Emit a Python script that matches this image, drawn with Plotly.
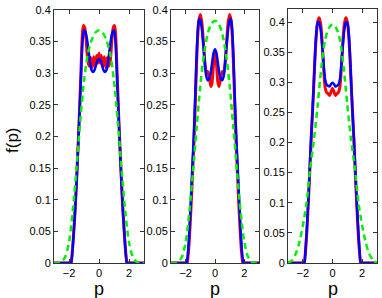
import plotly.graph_objects as go

W, H = 382, 298

# ---------------- data ----------------
# panel 1
p1_green_x = [-3, -2.75, -2.5, -2.25, -2, -1.75, -1.5, -1.25, -1, -0.75, -0.5, -0.25, 0,
              0.25, 0.5, 0.75, 1, 1.25, 1.5, 1.75, 2, 2.25, 2.5, 2.75, 3]
p1_green_y = [0, 0, 0.002, 0.010, 0.033, 0.082, 0.150, 0.225, 0.288, 0.330, 0.352, 0.364, 0.368,
              0.364, 0.352, 0.330, 0.288, 0.225, 0.150, 0.082, 0.033, 0.010, 0.002, 0, 0]

p1_blue_x = [-3, -2.4, -1.9, -1.85, -1.8, -1.7, -1.6, -1.5, -1.4, -1.3, -1.2, -1.1, -1.0, -0.9, -0.8,
             -0.7, -0.6, -0.5, -0.4, -0.3, -0.2, -0.1, 0, 0.1, 0.2, 0.3, 0.4, 0.5, 0.6, 0.7,
             0.8, 0.9, 1.0, 1.1, 1.2, 1.3, 1.4, 1.5, 1.6, 1.7, 1.8, 1.85, 1.9, 2.4, 3]
p1_blue_y = [0, 0, 0, 0, 0.010, 0.042, 0.080, 0.125, 0.180, 0.235, 0.295, 0.350, 0.368, 0.365, 0.354,
             0.336, 0.318, 0.305, 0.302, 0.305, 0.313, 0.320, 0.323, 0.320, 0.313, 0.305, 0.302, 0.305, 0.318, 0.336,
             0.354, 0.365, 0.368, 0.350, 0.295, 0.235, 0.180, 0.125, 0.080, 0.042, 0.010, 0, 0, 0, 0]

p1_red_x = [-3, -2.4, -1.92, -1.87, -1.8, -1.7, -1.6, -1.5, -1.4, -1.3, -1.2, -1.1, -1.03, -0.95, -0.85,
            -0.75, -0.65, -0.55, -0.45, -0.35, -0.25, -0.16, -0.08, 0, 0.08, 0.16, 0.25, 0.35, 0.45,
            0.55, 0.65, 0.75, 0.85, 0.95, 1.03, 1.1, 1.2, 1.3, 1.4, 1.5, 1.6, 1.7, 1.8, 1.87, 1.92, 2.4, 3]
p1_red_y = [0, 0, 0, 0, 0.012, 0.043, 0.082, 0.128, 0.182, 0.240, 0.305, 0.365, 0.3755, 0.372, 0.350,
            0.320, 0.311, 0.325, 0.309, 0.326, 0.310, 0.328, 0.316, 0.332, 0.316, 0.328, 0.310, 0.326, 0.309,
            0.325, 0.311, 0.320, 0.350, 0.372, 0.3755, 0.365, 0.305, 0.240, 0.182, 0.128, 0.082, 0.043, 0.012, 0, 0, 0, 0]

# panel 2
p2_green_x = p1_green_x
p2_green_y = [0, 0, 0.002, 0.010, 0.033, 0.080, 0.145, 0.215, 0.280, 0.330, 0.362, 0.378, 0.383,
              0.378, 0.362, 0.330, 0.280, 0.215, 0.145, 0.080, 0.033, 0.010, 0.002, 0, 0]

p2_blue_x = [-3, -2.4, -1.98, -1.93, -1.85, -1.75, -1.65, -1.55, -1.45, -1.35, -1.25, -1.15, -1.08, -1.0, -0.9,
             -0.8, -0.7, -0.6, -0.5, -0.4, -0.3, -0.2, -0.1, 0, 0.1, 0.2, 0.3, 0.4, 0.5, 0.6, 0.7,
             0.8, 0.9, 1.0, 1.08, 1.15, 1.25, 1.35, 1.45, 1.55, 1.65, 1.75, 1.85, 1.93, 1.98, 2.4, 3]
p2_blue_y = [0, 0, 0, 0, 0.015, 0.050, 0.098, 0.150, 0.200, 0.262, 0.330, 0.375, 0.386, 0.384, 0.371,
             0.346, 0.318, 0.296, 0.289, 0.291, 0.300, 0.316, 0.332, 0.338, 0.332, 0.316, 0.300, 0.291, 0.289, 0.296, 0.318,
             0.346, 0.371, 0.384, 0.386, 0.375, 0.330, 0.262, 0.200, 0.150, 0.098, 0.050, 0.015, 0, 0, 0, 0]

p2_red_x = [-3, -2.4, -1.95, -1.9, -1.8, -1.7, -1.6, -1.5, -1.4, -1.3, -1.2, -1.1, -1.0, -0.9, -0.8,
            -0.7, -0.6, -0.5, -0.38, -0.28, -0.2, -0.1, 0, 0.1, 0.2, 0.28, 0.38, 0.5, 0.6, 0.7,
            0.8, 0.9, 1.0, 1.1, 1.2, 1.3, 1.4, 1.5, 1.6, 1.7, 1.8, 1.9, 1.95, 2.4, 3]
p2_red_y = [0, 0, 0, 0, 0.020, 0.058, 0.105, 0.158, 0.212, 0.285, 0.350, 0.383, 0.393, 0.381, 0.352,
            0.320, 0.300, 0.303, 0.292, 0.279, 0.285, 0.315, 0.333, 0.315, 0.285, 0.279, 0.292, 0.303, 0.300, 0.320,
            0.352, 0.381, 0.393, 0.383, 0.350, 0.285, 0.212, 0.158, 0.105, 0.058, 0.020, 0, 0, 0, 0]

# panel 3
p3_green_x = p1_green_x
p3_green_y = [0, 0.004, 0.014, 0.033, 0.062, 0.100, 0.158, 0.205, 0.262, 0.325, 0.370, 0.390, 0.396,
              0.390, 0.370, 0.325, 0.262, 0.205, 0.158, 0.100, 0.062, 0.033, 0.014, 0.004, 0]

p3_blue_x = [-3, -2.4, -1.95, -1.9, -1.85, -1.75, -1.65, -1.55, -1.45, -1.35, -1.25, -1.15, -1.05, -0.98, -0.9,
             -0.8, -0.7, -0.6, -0.5, -0.4, -0.3, -0.2, -0.1, 0, 0.1, 0.2, 0.3, 0.4, 0.5, 0.6, 0.7,
             0.8, 0.9, 0.98, 1.05, 1.15, 1.25, 1.35, 1.45, 1.55, 1.65, 1.75, 1.85, 1.9, 1.95, 2.4, 3]
p3_blue_y = [0, 0, 0, 0, 0.012, 0.048, 0.095, 0.148, 0.205, 0.250, 0.305, 0.360, 0.393, 0.400, 0.399,
             0.388, 0.362, 0.330, 0.305, 0.296, 0.294, 0.293, 0.297, 0.299, 0.297, 0.293, 0.294, 0.296, 0.305, 0.330, 0.362,
             0.388, 0.399, 0.400, 0.393, 0.360, 0.305, 0.250, 0.205, 0.148, 0.095, 0.048, 0.012, 0, 0, 0, 0]

p3_red_x = [-3, -2.4, -1.95, -1.9, -1.8, -1.7, -1.6, -1.5, -1.4, -1.3, -1.2, -1.1, -1.0, -0.9, -0.8,
            -0.7, -0.6, -0.5, -0.4, -0.3, -0.2, -0.1, 0, 0.1, 0.2, 0.3, 0.4, 0.5, 0.6, 0.7,
            0.8, 0.9, 1.0, 1.1, 1.2, 1.3, 1.4, 1.5, 1.6, 1.7, 1.8, 1.9, 1.95, 2.4, 3]
p3_red_y = [0, 0, 0, 0, 0.025, 0.065, 0.115, 0.170, 0.225, 0.275, 0.330, 0.375, 0.400, 0.407, 0.397,
            0.368, 0.325, 0.292, 0.283, 0.281, 0.278, 0.284, 0.290, 0.284, 0.278, 0.281, 0.283, 0.292, 0.325, 0.368,
            0.397, 0.407, 0.400, 0.375, 0.330, 0.275, 0.225, 0.170, 0.115, 0.065, 0.025, 0, 0, 0, 0]

x_ticks = [-2, 0, 2]
y_ticks = [0, 0.05, 0.1, 0.15, 0.2, 0.25, 0.3, 0.35, 0.4]
y_tick_text = ["0", "0.05", "0.1", "0.15", "0.2", "0.25", "0.3", "0.35", "0.4"]
x_range = [-3, 3]
y_ranges = [[0, 0.4], [0, 0.4], [0, 0.4216]]
x_label = "p"
y_label = "f(p)"

panels = [
    (p1_red_x, p1_red_y, p1_blue_x, p1_blue_y, p1_green_x, p1_green_y),
    (p2_red_x, p2_red_y, p2_blue_x, p2_blue_y, p2_green_x, p2_green_y),
    (p3_red_x, p3_red_y, p3_blue_x, p3_blue_y, p3_green_x, p3_green_y),
]

# ---------------- layout (pixel boxes) ----------------
px_boxes = [(54, 144, 10, 263), (171, 259, 10, 263), (288, 377, 9, 263)]

fig = go.Figure()
FONT = "Liberation Sans, Arial, sans-serif"

for i, (rx, ry, bx, by, gx, gy) in enumerate(panels):
    n = i + 1
    xa = "x" if n == 1 else f"x{n}"
    ya = "y" if n == 1 else f"y{n}"
    fig.add_trace(go.Scatter(x=rx, y=ry, mode="lines", xaxis=xa, yaxis=ya,
                             line=dict(color="#ff0000", width=3, shape="spline", smoothing=0.6),
                             showlegend=False, hoverinfo="skip"))
    fig.add_trace(go.Scatter(x=bx, y=by, mode="lines", xaxis=xa, yaxis=ya,
                             line=dict(color="#0000ff", width=2.5, shape="spline", smoothing=0.6),
                             showlegend=False, hoverinfo="skip"))
    fig.add_trace(go.Scatter(x=gx, y=gy, mode="lines", xaxis=xa, yaxis=ya,
                             line=dict(color="#00f000", width=2.5, shape="spline", smoothing=0.8,
                                       dash="6px,4px"),
                             showlegend=False, hoverinfo="skip"))

layout = dict(
    width=W, height=H,
    margin=dict(l=0, r=0, t=0, b=0, autoexpand=False),
    paper_bgcolor="white", plot_bgcolor="white",
    font=dict(family=FONT, size=11, color="black"),
    hovermode=False,
)
annotations = []
for i, (x0, x1, yt, yb) in enumerate(px_boxes):
    n = i + 1
    xk = "xaxis" if n == 1 else f"xaxis{n}"
    yk = "yaxis" if n == 1 else f"yaxis{n}"
    layout[xk] = dict(
        domain=[x0 / W, x1 / W], range=x_range, anchor="y" if n == 1 else f"y{n}",
        tickvals=x_ticks, ticks="inside", ticklen=4, tickcolor="#333",
        showline=True, linecolor="#333", linewidth=1, mirror="ticks",
        showgrid=False, zeroline=False, tickfont=dict(size=11, family=FONT, color="black"),
        automargin=False,
    )
    layout[yk] = dict(
        domain=[(H - yb) / H, (H - yt) / H], range=y_ranges[i], anchor="x" if n == 1 else f"x{n}",
        tickvals=y_ticks, ticktext=y_tick_text, ticks="inside", ticklen=4, tickcolor="#333",
        showline=True, linecolor="#333", linewidth=1, mirror="ticks",
        showgrid=False, zeroline=False, tickfont=dict(size=11, family=FONT, color="black"),
        automargin=False,
    )
    annotations.append(dict(text=x_label, xref="paper", yref="paper",
                            x=(x0 + x1) / 2 / W, y=(H - 288.5) / H, xanchor="center", yanchor="middle",
                            showarrow=False, font=dict(size=18, family=FONT, color="black")))
annotations.append(dict(text=y_label, xref="paper", yref="paper", textangle=-90,
                        x=12 / W, y=(H - 140) / H, xanchor="center", yanchor="middle",
                        showarrow=False, font=dict(size=17, family=FONT, color="black")))
layout["annotations"] = annotations

fig.update_layout(**layout)
fig.write_html("out.html", config={"displayModeBar": False},
               post_script="document.body.style.margin='0';document.body.style.overflow='hidden';")
